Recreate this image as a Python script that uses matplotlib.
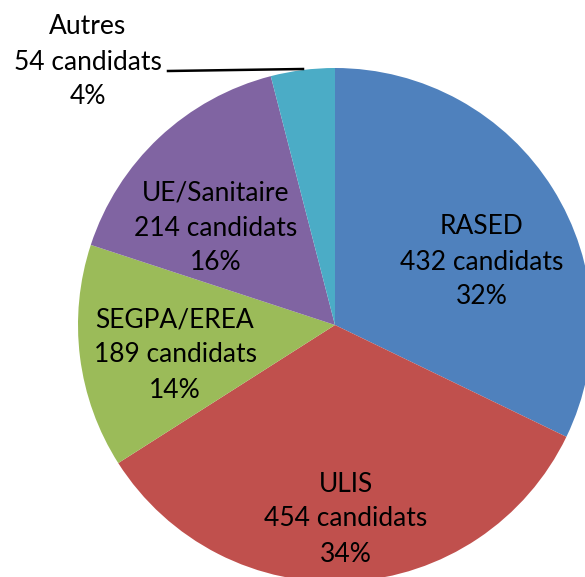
import matplotlib.pyplot as plt

# Répartition des candidats par option
categories = ['RASED', 'ULIS', 'SEGPA/EREA', 'UE/Sanitaire', 'Autres']
candidats = [432, 454, 189, 214, 54]
pourcentages = [32, 34, 14, 16, 4]
couleurs = ['#4F81BD', '#C0504D', '#9BBB59', '#8064A2', '#4BACC6']

W, H = 585, 577
fig = plt.figure(figsize=(W / 100, H / 100), dpi=100)
ax = fig.add_axes([0, 0, 1, 1])

# pie in pixel coordinates, cropped by the figure on the right and bottom
cx, cy, r = 335, H - 325, 257
ax.pie(candidats, colors=couleurs, startangle=90, counterclock=False,
       center=(cx, cy), radius=r, wedgeprops=dict(linewidth=0))
ax.set_xlim(0, W)
ax.set_ylim(0, H)
ax.set_aspect('equal')
ax.axis('off')

# label positions (pixels from top-left)
label_pos = [(482, 262), (346, 519), (175, 355), (216, 228), (88, 62)]
for cat, n, p, (x, y) in zip(categories, candidats, pourcentages, label_pos):
    ax.text(x, H - y, f'{cat}\n{n} candidats\n{p}%', ha='center', va='center',
            fontsize=19, family='Lato', linespacing=1.5, color='black')

# leader line for the small slice
ax.plot([168, 303], [H - 71, H - 69], color='black', lw=1.8)

fig.savefig('out.png', dpi=100)
